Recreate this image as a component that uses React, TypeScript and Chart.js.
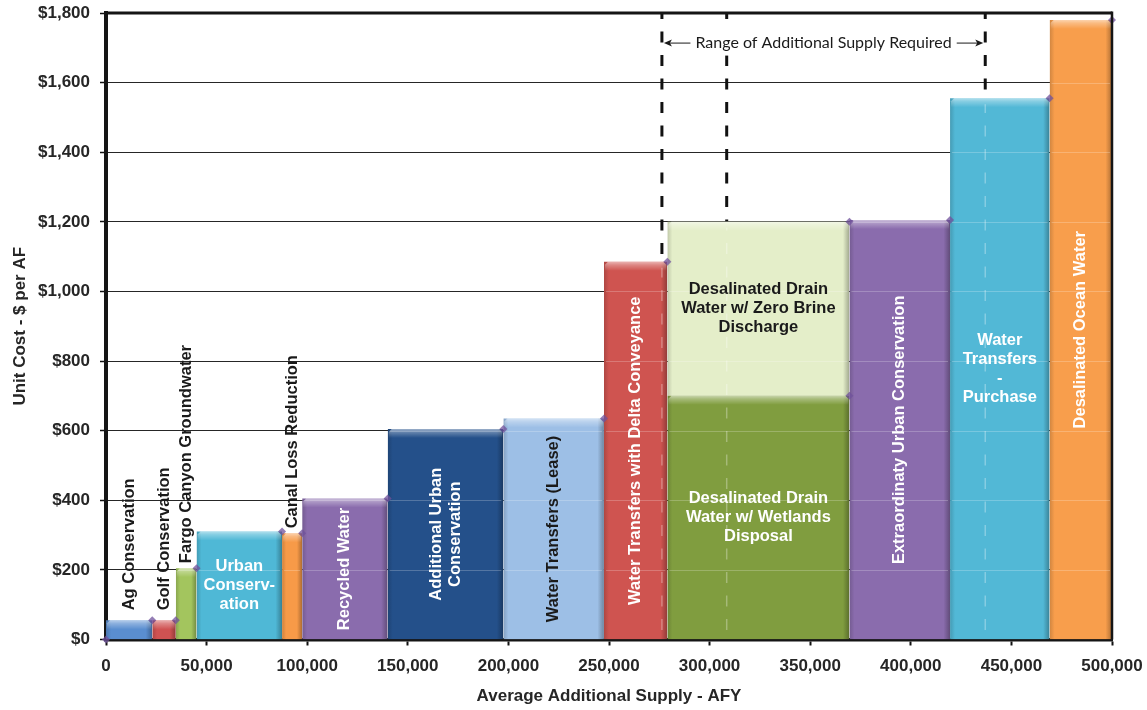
import React, { useEffect, useRef } from "react";
import { Chart, registerables } from "chart.js";

Chart.register(...registerables);

// ---------------- data ----------------
const CATEGORIES = [
  "Ag Conservation",
  "Golf Conservation",
  "Fargo Canyon Groundwater",
  "Urban Conservation",
  "Canal Loss Reduction",
  "Recycled Water",
  "Additional Urban Conservation",
  "Water Transfers (Lease)",
  "Water Transfers with Delta Conveyance",
  "Desalinated Drain Water w/ Wetlands Disposal",
  "Desalinated Drain Water w/ Zero Brine Discharge",
  "Extraordinaty Urban Conservation",
  "Water Transfers - Purchase",
  "Desalinated Ocean Water",
];
const SUPPLY_START = [0, 23000, 34700, 45000, 87500, 97500, 140000, 197500, 247500, 279000, 279000, 369500, 419500, 469000];
const SUPPLY_END = [23000, 34700, 45000, 87500, 97500, 140000, 197500, 247500, 279000, 369500, 369500, 419500, 469000, 500000];
const COST_LOW = [0, 0, 0, 0, 0, 0, 0, 0, 0, 0, 700, 0, 0, 0];
const COST_HIGH = [55, 55, 205, 310, 305, 405, 605, 635, 1085, 700, 1200, 1205, 1555, 1780];

const X_TICKS = [0, 50000, 100000, 150000, 200000, 250000, 300000, 350000, 400000, 450000, 500000];
const Y_TICKS = [0, 200, 400, 600, 800, 1000, 1200, 1400, 1600, 1800];

const RANGE_LINES = [276300, 308500, 437000];
const RANGE_TEXT = "Range of Additional Supply Required";
const RANGE_TEXT_COST = 1715;

const X_TITLE = "Average Additional Supply - AFY";
const Y_TITLE = "Unit Cost - $ per AF";

// ---------------- styling ----------------
const BAR_COLORS = [
  "#5A8ED0", "#D05252", "#A3C55E", "#4FB8D6", "#F79A48", "#8A6CAD", "#24508A",
  "#9DBFE6", "#CF5450", "#809D3F", "#E4EEC9", "#8A6CAD", "#52B8D6", "#F89E4C",
];
const LABEL_LINES = [
  ["Ag Conservation"],
  ["Golf Conservation"],
  ["Fargo Canyon Groundwater"],
  ["Urban", "Conserv-", "ation"],
  ["Canal Loss Reduction"],
  ["Recycled Water"],
  ["Additional Urban", "Conservation"],
  ["Water Transfers (Lease)"],
  ["Water Transfers with Delta Conveyance"],
  ["Desalinated Drain", "Water w/ Wetlands", "Disposal"],
  ["Desalinated Drain", "Water w/ Zero Brine", "Discharge"],
  ["Extraordinaty Urban Conservation"],
  ["Water", "Transfers", "-", "Purchase"],
  ["Desalinated Ocean Water"],
];
const LABEL_ROTATED = [true, true, true, false, true, true, true, true, true, false, false, true, false, true];
const LABEL_OUTSIDE = [true, true, true, false, true, false, false, false, false, false, false, false, false, false];
const LABEL_DARK = [true, true, true, false, true, false, false, true, false, false, true, false, false, false];
const LABEL_GAP = [10, 10, 5, 0, 5, 0, 0, 0, 0, 0, 0, 0, 0, 0];

const FONT = '"Liberation Sans", Arial, sans-serif';
const LABEL_FONT_SIZE = 16.5;
const LABEL_LINE_H = 19;

function hexToRgb(hex: string) {
  const h = hex.replace("#", "");
  return [parseInt(h.slice(0, 2), 16), parseInt(h.slice(2, 4), 16), parseInt(h.slice(4, 6), 16)];
}
function shade(hex: string, amt: number, alpha = 1) {
  const [r, g, b] = hexToRgb(hex);
  const f = (c: number) =>
    Math.round(amt < 0 ? c * (1 + amt) : c + (255 - c) * amt);
  return `rgba(${f(r)},${f(g)},${f(b)},${alpha})`;
}

function barFill(chart: any, i: number) {
  const base = BAR_COLORS[i];
  const xs = chart.scales && chart.scales.x;
  if (!xs) return base;
  const p0 = xs.getPixelForValue(SUPPLY_START[i]);
  const p1 = xs.getPixelForValue(SUPPLY_END[i]);
  if (!isFinite(p0) || !isFinite(p1) || p1 - p0 < 2) return base;
  const w = p1 - p0;
  const e = Math.min(0.2, 5 / w);
  const g = chart.ctx.createLinearGradient(p0, 0, p1, 0);
  g.addColorStop(0, shade(base, -0.16));
  g.addColorStop(e, base);
  g.addColorStop(Math.max(e, 1 - e * 1.3), base);
  g.addColorStop(1, shade(base, -0.3));
  return g;
}

function zeroPadding(s: any) {
  s.paddingTop = 0;
  s.paddingBottom = 0;
  s.paddingLeft = 0;
  s.paddingRight = 0;
}

const rangeLinesPlugin = {
  id: "rangeLines",
  beforeDatasetsDraw(chart: any) {
    const { ctx, chartArea } = chart;
    const xs = chart.scales.x;
    ctx.save();
    ctx.beginPath();
    ctx.rect(chartArea.left, chartArea.top, chartArea.right - chartArea.left, chartArea.bottom - chartArea.top);
    ctx.clip();
    ctx.strokeStyle = "#111";
    ctx.lineWidth = 3;
    ctx.setLineDash([11, 12.5]);
    RANGE_LINES.forEach((v) => {
      const x = xs.getPixelForValue(v);
      ctx.beginPath();
      ctx.moveTo(x, chartArea.top - 5);
      ctx.lineTo(x, chartArea.bottom);
      ctx.stroke();
    });
    ctx.restore();
  },
};

const barDecorPlugin = {
  id: "barDecor",
  afterDatasetDraw(chart: any, args: any) {
    const i = args.index;
    if (i >= CATEGORIES.length) return;
    const { ctx } = chart;
    const xs = chart.scales.x;
    const ys = chart.scales.y;
    const x0 = xs.getPixelForValue(SUPPLY_START[i]);
    const x1 = xs.getPixelForValue(SUPPLY_END[i]);
    const yTop = ys.getPixelForValue(COST_HIGH[i]);
    const yBot = ys.getPixelForValue(COST_LOW[i]);
    ctx.save();
    ctx.strokeStyle = "rgba(255,255,255,0.22)";
    ctx.lineWidth = 1;
    Y_TICKS.forEach((t) => {
      if (t > COST_LOW[i] && t < COST_HIGH[i]) {
        const y = Math.round(ys.getPixelForValue(t)) + 0.5;
        ctx.beginPath();
        ctx.moveTo(x0 + 2, y);
        ctx.lineTo(x1 - 2, y);
        ctx.stroke();
      }
    });
    ctx.setLineDash([11, 12.5]);
    ctx.strokeStyle = "rgba(255,255,255,0.3)";
    ctx.lineWidth = 1.5;
    RANGE_LINES.forEach((v) => {
      if (v > SUPPLY_START[i] && v < SUPPLY_END[i]) {
        const x = xs.getPixelForValue(v);
        ctx.save();
        ctx.beginPath();
        ctx.rect(x0, yTop + 6, x1 - x0, yBot - yTop - 6);
        ctx.clip();
        ctx.beginPath();
        ctx.moveTo(x, chart.chartArea.top - 5);
        ctx.lineTo(x, yBot);
        ctx.stroke();
        ctx.restore();
      }
    });
    ctx.setLineDash([]);
    const g = ctx.createLinearGradient(0, yTop, 0, yTop + 9);
    g.addColorStop(0, "rgba(255,255,255,0.55)");
    g.addColorStop(0.35, "rgba(255,255,255,0.3)");
    g.addColorStop(1, "rgba(255,255,255,0)");
    ctx.fillStyle = g;
    ctx.beginPath();
    ctx.moveTo(x0 + 1, yTop + 3);
    ctx.lineTo(x0 + 4, yTop);
    ctx.lineTo(x1 - 4, yTop);
    ctx.lineTo(x1 - 1, yTop + 3);
    ctx.lineTo(x1 - 1, yTop + 9);
    ctx.lineTo(x0 + 1, yTop + 9);
    ctx.closePath();
    ctx.fill();
    ctx.restore();
  },
};

const labelsPlugin = {
  id: "barLabels",
  afterDatasetsDraw(chart: any) {
    const { ctx } = chart;
    const xs = chart.scales.x;
    const ys = chart.scales.y;
    ctx.save();
    ctx.font = `bold ${LABEL_FONT_SIZE}px ${FONT}`;
    CATEGORIES.forEach((_, i) => {
      const lines = LABEL_LINES[i];
      const cx = xs.getPixelForValue((SUPPLY_START[i] + SUPPLY_END[i]) / 2);
      ctx.fillStyle = LABEL_DARK[i] ? "#1a1a1a" : "#ffffff";
      ctx.save();
      if (LABEL_OUTSIDE[i]) {
        const yb = ys.getPixelForValue(COST_HIGH[i]) - LABEL_GAP[i];
        ctx.translate(cx, yb);
        ctx.rotate(-Math.PI / 2);
        ctx.textAlign = "left";
        ctx.textBaseline = "middle";
        ctx.fillText(lines[0], 0, 0);
      } else {
        const cy = ys.getPixelForValue((COST_LOW[i] + COST_HIGH[i]) / 2);
        ctx.translate(cx, cy);
        if (LABEL_ROTATED[i]) ctx.rotate(-Math.PI / 2);
        ctx.textAlign = "center";
        ctx.textBaseline = "middle";
        lines.forEach((t, k) => {
          ctx.fillText(t, 0, (k - (lines.length - 1) / 2) * LABEL_LINE_H);
        });
      }
      ctx.restore();
    });

    const yT = ys.getPixelForValue(RANGE_TEXT_COST);
    const xl = xs.getPixelForValue(RANGE_LINES[0]);
    const xr = xs.getPixelForValue(RANGE_LINES[2]);
    ctx.font = `16px Lato, "Open Sans", sans-serif`;
    const tw = ctx.measureText(RANGE_TEXT).width;
    const mid = (xl + xr) / 2;
    ctx.fillStyle = "#ffffff";
    ctx.fillRect(mid - tw / 2 - 3, yT - 13, tw + 6, 26);
    ctx.fillStyle = "#1a1a1a";
    ctx.textAlign = "center";
    ctx.textBaseline = "middle";
    ctx.fillText(RANGE_TEXT, mid, yT);
    const arrow = (from: number, to: number) => {
      const dir = to > from ? 1 : -1;
      ctx.strokeStyle = "#1a1a1a";
      ctx.lineWidth = 1;
      ctx.beginPath();
      ctx.moveTo(from, yT + 0.5);
      ctx.lineTo(to - dir * 4, yT + 0.5);
      ctx.stroke();
      ctx.beginPath();
      ctx.moveTo(to, yT + 0.5);
      ctx.lineTo(to - dir * 8, yT - 3);
      ctx.lineTo(to - dir * 6, yT + 0.5);
      ctx.lineTo(to - dir * 8, yT + 4);
      ctx.closePath();
      ctx.fillStyle = "#1a1a1a";
      ctx.fill();
    };
    arrow(mid - tw / 2 - 5, xl + 2);
    arrow(mid + tw / 2 + 5, xr - 2);
    ctx.restore();
  },
  afterDraw(chart: any) {
    const { ctx, chartArea } = chart;
    ctx.save();
    ctx.strokeStyle = "#151515";
    ctx.lineWidth = 3;
    ctx.beginPath();
    ctx.moveTo(chartArea.left, chartArea.top);
    ctx.lineTo(chartArea.right, chartArea.top);
    ctx.stroke();
    ctx.lineWidth = 2.5;
    ctx.beginPath();
    ctx.moveTo(chartArea.right, chartArea.top - 1.5);
    ctx.lineTo(chartArea.right, chartArea.bottom);
    ctx.stroke();
    ctx.restore();
  },
};

export default function App() {
  const ref = useRef<HTMLCanvasElement | null>(null);

  useEffect(() => {
    document.body.style.margin = "0";
    const canvas = ref.current;
    if (!canvas) return;

    const barDatasets = CATEGORIES.map((name, i) => ({
      label: name,
      data: [
        { x: SUPPLY_START[i], y: COST_LOW[i] },
        { x: SUPPLY_START[i], y: COST_HIGH[i] },
        { x: SUPPLY_END[i], y: COST_HIGH[i] },
        { x: SUPPLY_END[i], y: COST_LOW[i] },
      ],
      borderWidth: 0,
      borderColor: "rgba(0,0,0,0)",
      pointRadius: 0,
      pointHoverRadius: 0,
      tension: 0,
      fill: COST_LOW[i] === 0 ? "origin" : { value: COST_LOW[i] },
      backgroundColor: (c: any) => barFill(c.chart, i),
      order: 2,
    }));

    const cornerPoints = [{ x: SUPPLY_START[0], y: COST_LOW[0] }].concat(
      CATEGORIES.map((_, i) => ({ x: SUPPLY_END[i], y: COST_HIGH[i] }))
    );

    const chart = new Chart(canvas, {
      type: "line",
      data: {
        datasets: [
          ...barDatasets,
          {
            label: "corners",
            data: cornerPoints,
            showLine: false,
            pointStyle: "rectRot",
            pointRadius: 4,
            pointBackgroundColor: "rgba(112,82,156,0.75)",
            pointBorderWidth: 0,
            borderColor: "rgba(0,0,0,0)",
            fill: false,
            clip: false,
            order: 0,
          } as any,
        ],
      },
      options: {
        responsive: false,
        animation: false,
        devicePixelRatio: 1,
        layout: { autoPadding: false, padding: { top: 13, right: 35, left: 0, bottom: 0 } },
        plugins: {
          legend: { display: false },
          tooltip: { enabled: false },
        },
        events: [],
        scales: {
          x: {
            type: "linear",
            min: 0,
            max: 500000,
            afterBuildTicks: (s: any) => {
              s.ticks = X_TICKS.map((v) => ({ value: v }));
            },
            afterFit: (s: any) => {
              s.height = 70.5;
              zeroPadding(s);
            },
            grid: {
              drawOnChartArea: false,
              drawTicks: true,
              tickLength: 6,
              tickColor: "#111",
              tickWidth: 2,
            },
            border: { display: true, color: "#151515", width: 3.5 },
            ticks: {
              color: "#262626",
              padding: 11,
              maxRotation: 0,
              autoSkip: false,
              font: { family: FONT, size: 17, weight: "bold" },
              callback: (v: any) => Number(v).toLocaleString("en-US"),
            },
            title: {
              display: true,
              text: X_TITLE,
              color: "#262626",
              font: { family: FONT, size: 17, weight: "bold" },
              padding: { top: 0, bottom: 3 },
            },
          },
          y: {
            type: "linear",
            min: 0,
            max: 1800,
            afterBuildTicks: (s: any) => {
              s.ticks = Y_TICKS.map((v) => ({ value: v }));
            },
            afterFit: (s: any) => {
              s.width = 106;
              zeroPadding(s);
            },
            grid: {
              color: "#262626",
              lineWidth: 1,
              drawTicks: true,
              tickLength: 6,
              tickColor: "#111",
              tickWidth: 1.5,
            },
            border: { display: true, color: "#151515", width: 4 },
            ticks: {
              color: "#262626",
              padding: 10,
              font: { family: FONT, size: 17, weight: "bold" },
              callback: (v: any) => "$" + Number(v).toLocaleString("en-US"),
            },
            title: {
              display: true,
              text: Y_TITLE,
              color: "#262626",
              font: { family: FONT, size: 17, weight: "bold" },
              padding: { top: 10, bottom: 0 },
            },
          },
        },
      } as any,
      plugins: [rangeLinesPlugin, barDecorPlugin, labelsPlugin],
    });

    return () => chart.destroy();
  }, []);

  return (
    <canvas
      ref={ref}
      width={1147}
      height={710}
      style={{ display: "block", width: 1147, height: 710 }}
    />
  );
}
